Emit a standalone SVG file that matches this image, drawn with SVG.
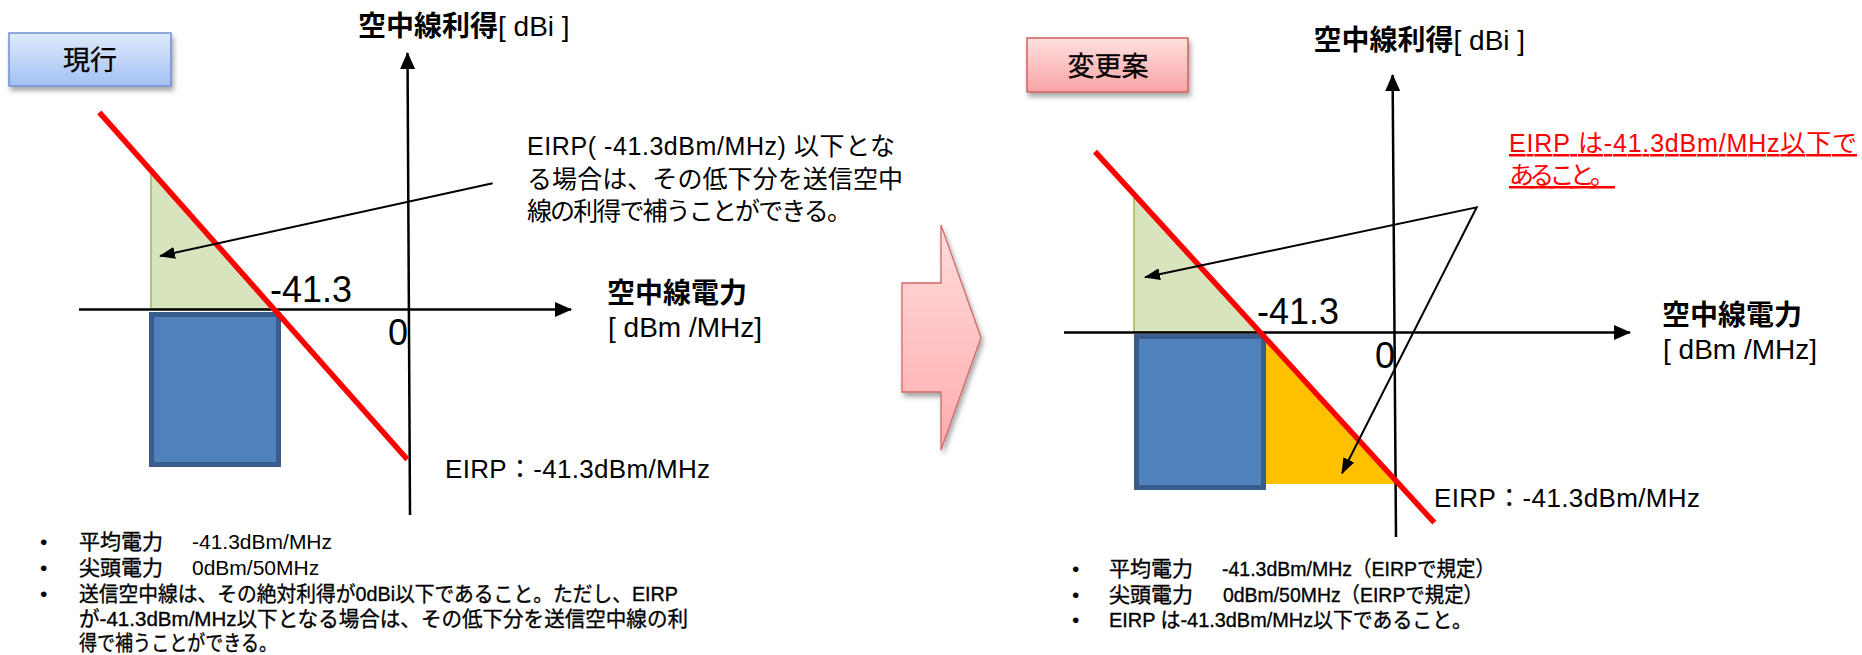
<svg xmlns="http://www.w3.org/2000/svg" width="1862" height="655" viewBox="0 0 1862 655">
<style>
text{font-family:"Liberation Sans","Noto Sans CJK JP",sans-serif;fill:#000}
.cjkb{font-weight:bold}
.t28{font-size:28px}
.t36{font-size:36px}
.t26{font-size:26px}
.t25{font-size:25px}
.t21{font-size:21px}
.note{stroke:#000;stroke-width:0.35}
.axis{stroke:#000;stroke-width:2.5;fill:none}
.redline{stroke:#ff0000;stroke-width:5.5;fill:none}
.arr{stroke:#000;stroke-width:2;fill:none}
.green{fill:#d7e4bd;stroke:#9bbb59;stroke-width:1.5}
.blue{fill:#4f81bd;stroke:#385d8a;stroke-width:5}
.orange{fill:#ffc000}
</style>
<defs>
<linearGradient id="gBlue" x1="0" y1="0" x2="0" y2="1"><stop offset="0" stop-color="#e0ebfc"/><stop offset="1" stop-color="#a3c1f3"/></linearGradient>
<linearGradient id="gPink" x1="0" y1="0" x2="0" y2="1"><stop offset="0" stop-color="#ffe0e0"/><stop offset="1" stop-color="#f8a3a3"/></linearGradient>
<linearGradient id="gArrow" x1="0" y1="0" x2="0" y2="1"><stop offset="0" stop-color="#ffdcdc"/><stop offset="1" stop-color="#ffacac"/></linearGradient>
<filter id="sh" x="-10%" y="-20%" width="130%" height="160%"><feDropShadow dx="2" dy="4" stdDeviation="2.5" flood-color="#000" flood-opacity="0.35"/></filter>
<marker id="axArr" markerWidth="17" markerHeight="15" refX="16" refY="7.5" orient="auto" markerUnits="userSpaceOnUse"><path d="M0,0 L17,7.5 L0,15 z" fill="#000"/></marker>
<marker id="cArr" markerWidth="16" markerHeight="12" refX="15" refY="6" orient="auto-start-reverse" markerUnits="userSpaceOnUse"><path d="M0,0 L16,6 L0,12 z" fill="#000"/></marker>
</defs>

<!-- left title -->
<g id="title-genko">
<rect x="9" y="33" width="162" height="53" fill="url(#gBlue)" stroke="#6f90d2" stroke-width="1.5" filter="url(#sh)"/>
<text x="90" y="70" text-anchor="middle" style="font-size:27px" stroke="#000" stroke-width="0.3">現行</text>
</g>

<!-- right title -->
<g id="title-henkoan">
<rect x="1027" y="38" width="161" height="54" fill="url(#gPink)" stroke="#d0605e" stroke-width="1.5" filter="url(#sh)"/>
<text x="1108" y="75.5" text-anchor="middle" style="font-size:27px" stroke="#000" stroke-width="0.3">変更案</text>
</g>

<!-- transition arrow -->
<g id="transition-arrow">
<polygon points="902,283 941,283 941,225 981,337.5 941,450 941,392 902,392" fill="url(#gArrow)" stroke="#cf6a68" stroke-width="1.3" filter="url(#sh)"/>
</g>

<!-- LEFT CHART -->
<g id="left-chart">
<polygon class="green" points="151,171 151,309 274,309"/>
<rect class="blue" x="151.5" y="314.5" width="127" height="150"/>
<path class="axis" d="M410,515 L407.5,53" marker-end="url(#axArr)"/>
<path class="axis" d="M79,309.5 L571,309.5" marker-end="url(#axArr)"/>
<line class="redline" x1="99.3" y1="112.3" x2="407.3" y2="459.3"/>
<text class="t36" x="270" y="302">-41.3</text>
<text class="t36" x="388" y="345">0</text>
<text class="t28" x="358" y="36"><tspan class="cjkb">空中線利得</tspan>[ dBi ]</text>
<text class="t28 cjkb" x="607" y="303">空中線電力</text>
<text class="t28" x="608" y="337">[ dBm /MHz]</text>
<text class="t26" x="445" y="478" textLength="265" lengthAdjust="spacing">EIRP：-41.3dBm/MHz</text>
</g>
<g id="left-callout">
<text class="t25" x="527" y="155" textLength="368" lengthAdjust="spacing">EIRP( -41.3dBm/MHz) 以下とな</text>
<text class="t25" x="527" y="187.5" textLength="376" lengthAdjust="spacing">る場合は、その低下分を送信空中</text>
<text class="t25" x="527" y="220" textLength="325" lengthAdjust="spacing">線の利得で補うことができる。</text>
</g>

<!-- RIGHT CHART -->
<g id="right-chart">
<polygon class="green" points="1134,194 1134,332 1258,332"/>
<rect class="blue" x="1136.5" y="336.5" width="127" height="151"/>
<polygon class="orange" points="1266,336 1266,484 1399,484"/>
<path class="axis" d="M1396,537 L1392.6,75" marker-end="url(#axArr)"/>
<path class="axis" d="M1064,332.5 L1630,332.5" marker-end="url(#axArr)"/>
<line class="redline" x1="1095" y1="151.7" x2="1434.3" y2="522.7"/>
<text class="t36" x="1257" y="324">-41.3</text>
<text class="t36" x="1375" y="368">0</text>
<text class="t28" x="1313.5" y="50"><tspan class="cjkb">空中線利得</tspan>[ dBi ]</text>
<text class="t28 cjkb" x="1662" y="325">空中線電力</text>
<text class="t28" x="1663" y="359">[ dBm /MHz]</text>
<text class="t26" x="1434" y="507" textLength="266" lengthAdjust="spacing">EIRP：-41.3dBm/MHz</text>
</g>
<g id="right-callout">
<text class="t25" x="1509" y="152" textLength="348" lengthAdjust="spacing" text-decoration="underline" style="fill:#ff0000">EIRP は-41.3dBm/MHz以下で</text>
<text class="t25" x="1509" y="184" textLength="106" lengthAdjust="spacing" text-decoration="underline" style="fill:#ff0000">あること。</text>
</g>

<!-- connectors -->
<g id="connectors">
<path class="arr" d="M492.7,183.3 L160,256" marker-end="url(#cArr)"/>
<path class="arr" d="M1145,277.3 L1476.7,207.3 L1342,473.3" marker-start="url(#cArr)" marker-end="url(#cArr)" stroke-linejoin="miter"/>
</g>

<!-- bullets left -->
<g id="left-notes">
<text class="t21" x="40" y="549">•</text>
<text class="t21" x="40" y="575">•</text>
<text class="t21" x="40" y="601">•</text>
<text class="t21 note" x="79" y="549">平均電力</text>
<text class="t21" x="192" y="549">-41.3dBm/MHz</text>
<text class="t21 note" x="79" y="575">尖頭電力</text>
<text class="t21" x="192" y="575">0dBm/50MHz</text>
<text class="t21 note" x="79" y="601" textLength="599" lengthAdjust="spacingAndGlyphs">送信空中線は、その絶対利得が0dBi以下であること。ただし、EIRP</text>
<text class="t21 note" x="79" y="626" textLength="609" lengthAdjust="spacingAndGlyphs">が-41.3dBm/MHz以下となる場合は、その低下分を送信空中線の利</text>
<text class="t21 note" x="79" y="650" textLength="198" lengthAdjust="spacingAndGlyphs">得で補うことができる。</text>
</g>

<!-- bullets right -->
<g id="right-notes">
<text class="t21" x="1072" y="576">•</text>
<text class="t21" x="1072" y="602">•</text>
<text class="t21" x="1072" y="627">•</text>
<text class="t21 note" x="1109" y="576">平均電力</text>
<text class="t21 note" x="1222" y="576" textLength="273" lengthAdjust="spacingAndGlyphs">-41.3dBm/MHz（EIRPで規定）</text>
<text class="t21 note" x="1109" y="602">尖頭電力</text>
<text class="t21 note" x="1223" y="602" textLength="260" lengthAdjust="spacingAndGlyphs">0dBm/50MHz（EIRPで規定）</text>
<text class="t21 note" x="1109" y="627" textLength="363" lengthAdjust="spacingAndGlyphs">EIRP は-41.3dBm/MHz以下であること。</text>
</g>
</svg>
